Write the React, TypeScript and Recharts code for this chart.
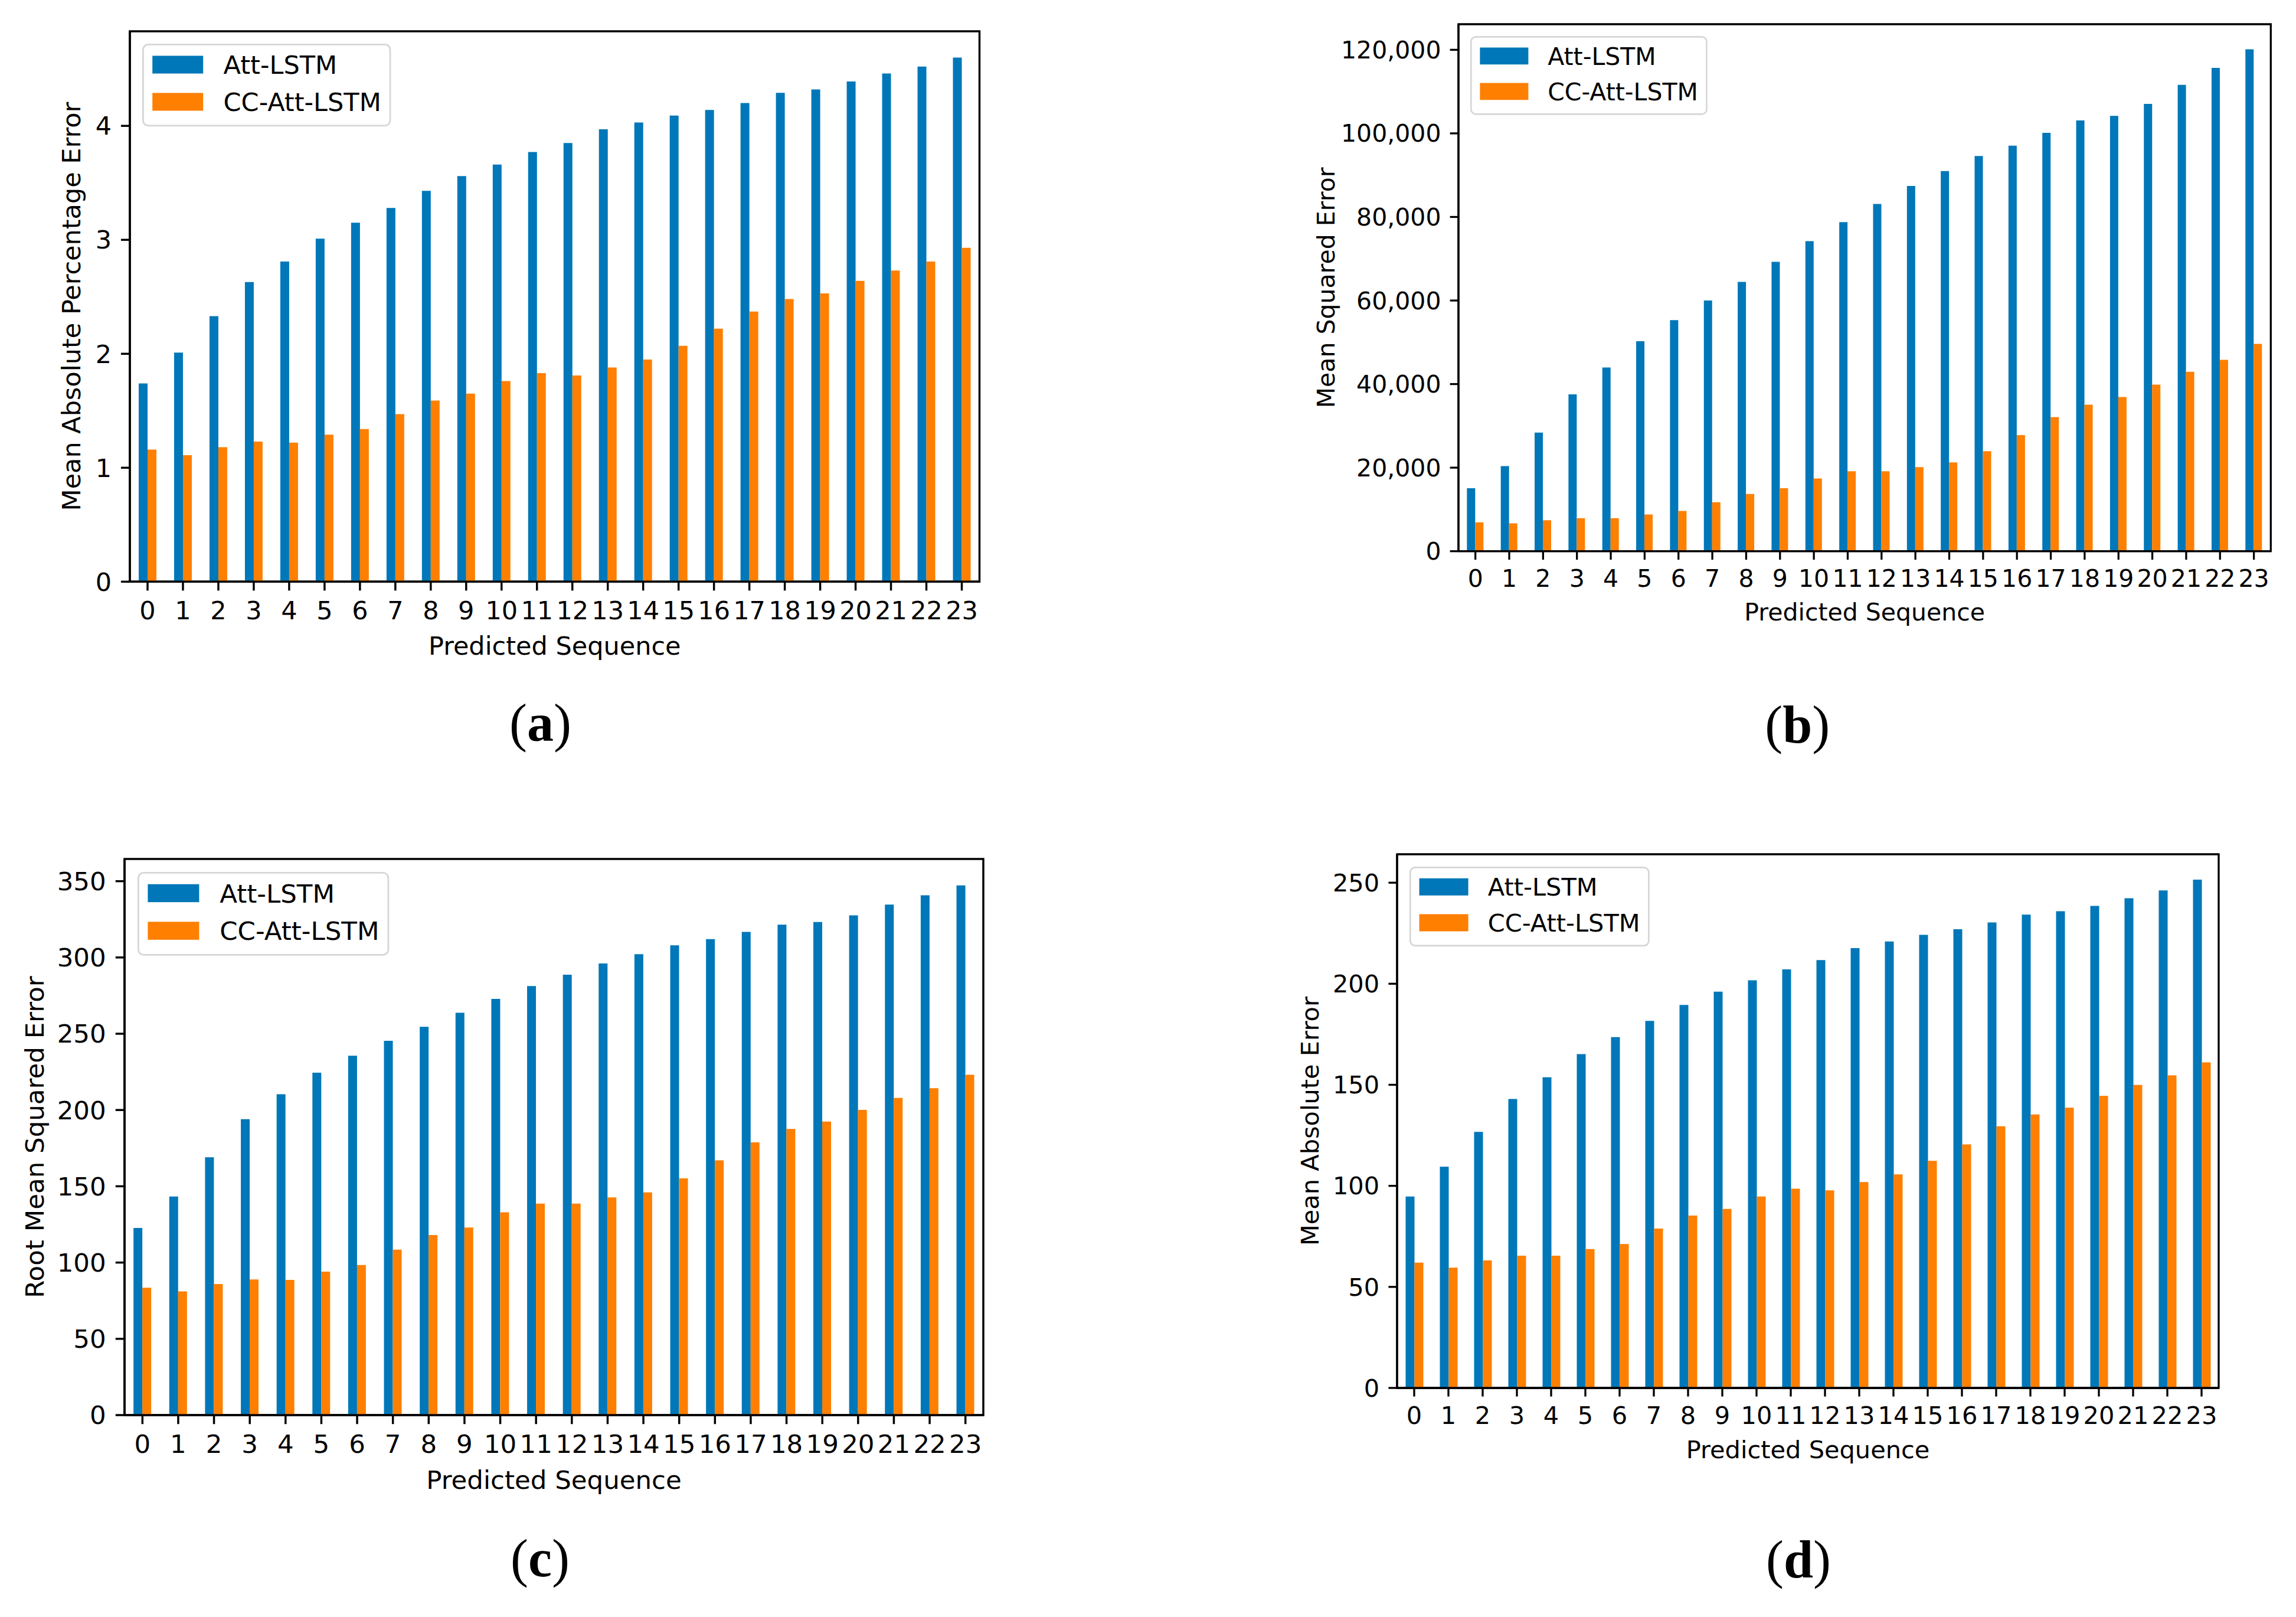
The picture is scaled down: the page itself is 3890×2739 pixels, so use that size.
import React from 'react';
import { BarChart, Bar, XAxis, YAxis, Legend, ReferenceArea } from 'recharts';

// ---------- data ----------
const SEQUENCE = ['0', '1', '2', '3', '4', '5', '6', '7', '8', '9', '10', '11', '12', '13', '14', '15', '16', '17', '18', '19', '20', '21', '22', '23'];

const mapeAtt = [1.74, 2.01, 2.33, 2.63, 2.81, 3.01, 3.15, 3.28, 3.43, 3.56, 3.66, 3.77, 3.85, 3.97, 4.03, 4.09, 4.14, 4.2, 4.29, 4.32, 4.39, 4.46, 4.52, 4.6];
const mapeCc = [1.16, 1.11, 1.18, 1.23, 1.22, 1.29, 1.34, 1.47, 1.59, 1.65, 1.76, 1.83, 1.81, 1.88, 1.95, 2.07, 2.22, 2.37, 2.48, 2.53, 2.64, 2.73, 2.81, 2.93];
const mapeTicks = [0, 1, 2, 3, 4];

const mseAtt = [15060, 20370, 28400, 37530, 43950, 50250, 55310, 60000, 64440, 69260, 74200, 78770, 83090, 87410, 90990, 94570, 97040, 100120, 103090, 104200, 107040, 111600, 115680, 120120];
const mseCc = [6910, 6670, 7410, 7900, 7900, 8770, 9630, 11730, 13700, 15060, 17410, 19140, 19140, 20120, 21240, 23950, 27780, 32100, 35060, 36910, 39880, 42960, 45800, 49630];
const mseTicks = [0, 20000, 40000, 60000, 80000, 100000, 120000];

const rmseAtt = [122.7, 143.3, 169.0, 194.0, 210.3, 224.5, 235.6, 245.4, 254.6, 263.7, 272.8, 281.3, 288.7, 296.1, 302.2, 308.0, 312.0, 316.8, 321.5, 323.2, 327.6, 334.7, 340.8, 347.2];
const rmseCc = [83.5, 81.1, 85.9, 88.9, 88.6, 94.0, 98.4, 108.5, 118.0, 123.0, 132.9, 138.6, 138.6, 142.7, 146.0, 155.2, 167.0, 178.8, 187.6, 192.4, 200.1, 207.9, 214.3, 223.1];
const rmseTicks = [0, 50, 100, 150, 200, 250, 300, 350];

const maeAtt = [94.7, 109.5, 126.7, 143.0, 153.7, 165.2, 173.6, 181.6, 189.5, 196.1, 201.7, 207.1, 211.7, 217.6, 220.9, 224.2, 227.0, 230.3, 234.2, 235.9, 238.5, 242.3, 246.2, 251.5];
const maeCc = [62.0, 59.5, 63.1, 65.4, 65.4, 68.7, 71.2, 78.9, 85.3, 88.6, 94.7, 98.6, 97.8, 101.9, 105.7, 112.4, 120.5, 129.5, 135.3, 138.7, 144.5, 149.9, 154.7, 161.1];
const maeTicks = [0, 50, 100, 150, 200, 250];

const SERIES_NAMES = ['Att-LSTM', 'CC-Att-LSTM'];
const X_LABEL = 'Predicted Sequence';

// ---------- styling / layout ----------
const BLUE = '#0077b8';
const ORANGE = '#ff7f00';
const SANS = "'DejaVu Sans', 'Noto Sans', sans-serif";
const SERIF = "'Liberation Serif', 'DejaVu Serif', serif";

const plainFmt = (v: number) => String(v);
const commaFmt = (v: number) => v.toLocaleString('en-US');

const PANELS = [
  { id: 'a', att: mapeAtt, cc: mapeCc, ticks: mapeTicks, yLabel: 'Mean Absolute Percentage Error', fmt: plainFmt,
    F: 43, plotL: 219.5, plotR: 1659, plotT: 52.7, plotB: 985, yLabelX: 120, capX: 915, capY: 1255 },
  { id: 'b', att: mseAtt, cc: mseCc, ticks: mseTicks, yLabel: 'Mean Squared Error', fmt: commaFmt,
    F: 41, plotL: 2470.7, plotR: 3847, plotT: 40.8, plotB: 933.5, yLabelX: 2246, capX: 3045, capY: 1258 },
  { id: 'c', att: rmseAtt, cc: rmseCc, ticks: rmseTicks, yLabel: 'Root Mean Squared Error', fmt: plainFmt,
    F: 43.5, plotL: 211, plotR: 1666, plotT: 1455, plotB: 2397, yLabelX: 58, capX: 915, capY: 2670 },
  { id: 'd', att: maeAtt, cc: maeCc, ticks: maeTicks, yLabel: 'Mean Absolute Error', fmt: plainFmt,
    F: 41.5, plotL: 2367, plotR: 3759, plotT: 1447, plotB: 2351, yLabelX: 2219, capX: 3047, capY: 2672 },
];

function makeLegend(F: number) {
  const w = 9.8 * F;
  const h = 3.26 * F;
  const lw = 0.065 * F;
  const rows = [0.826 * F, 2.29 * F];
  return (props: any) => {
    const payload = props.payload || [];
    return (
      <svg width={w} height={h} style={{ display: 'block', overflow: 'visible' }}>
        <rect x={lw / 2} y={lw / 2} width={w - lw} height={h - lw} rx={0.2 * F} ry={0.2 * F}
          fill="rgba(255,255,255,0.8)" stroke="#d6d6d6" strokeWidth={lw} />
        {payload.map((entry: any, i: number) => {
          const cy = rows[i] ?? rows[0] + i * 1.465 * F;
          return (
            <g key={String(entry.value)}>
              <rect x={0.4 * F} y={cy - 0.35 * F} width={2 * F} height={0.7 * F} fill={entry.color} />
              <text x={3.2 * F} y={cy + 0.36 * F} fontSize={F} fill="#000" fontFamily={SANS}>{entry.value}</text>
            </g>
          );
        })}
      </svg>
    );
  };
}

function Panel({ p }: { p: typeof PANELS[number] }) {
  const Ya = 260;
  const mt = 30;
  const mr = 30;
  const Xh = 360;
  const F = p.F;
  const plotW = p.plotR - p.plotL;
  const plotH = p.plotB - p.plotT;
  const width = Ya + plotW + mr;
  const height = mt + plotH + Xh;
  const left = p.plotL - Ya;
  const top = p.plotT - mt;
  const data = SEQUENCE.map((s, i) => ({ seq: s, att: p.att[i], cc: p.cc[i] }));
  const yMax = Math.max(...p.att) * 1.05;
  const lw = 0.08 * F;
  const axisStyle = { stroke: '#000', strokeWidth: lw };

  const xLabel = () => (
    <g>
      <text x={Ya + plotW / 2} y={mt + plotH + 2.87 * F} textAnchor="middle" fontSize={F} fill="#000" fontFamily={SANS}>
        {X_LABEL}
      </text>
      <text x={p.capX - left} y={p.capY - top} textAnchor="middle" fontSize={90} fill="#000" fontFamily={SERIF}>
        (<tspan fontWeight="bold">{p.id}</tspan>)
      </text>
    </g>
  );

  const yLabel = () => {
    const cx = p.yLabelX - left;
    const cy = mt + plotH / 2;
    return (
      <text x={cx} y={cy} dy={0.36 * F} transform={`rotate(-90 ${cx} ${cy})`} textAnchor="middle" fontSize={F} fill="#000" fontFamily={SANS}>
        {p.yLabel}
      </text>
    );
  };

  return (
    <div style={{ position: 'absolute', left, top, width, height, fontFamily: SANS }}>
      <BarChart width={width} height={height} data={data} margin={{ top: mt, right: mr, bottom: 0, left: 0 }}
        barCategoryGap="25%" barGap={0}>
        <XAxis dataKey="seq" interval={0} height={Xh} tickSize={0.35 * F} tickMargin={0.41 * F}
          tick={{ fontSize: F, fill: '#000', fontFamily: SANS }} axisLine={axisStyle} tickLine={axisStyle}
          label={{ content: xLabel }} />
        <YAxis type="number" domain={[0, yMax]} ticks={p.ticks} width={Ya} allowDataOverflow
          tickSize={0.35 * F} tickMargin={0.37 * F} tickFormatter={p.fmt}
          tick={{ fontSize: F, fill: '#000', fontFamily: SANS }} axisLine={axisStyle} tickLine={axisStyle}
          label={{ content: yLabel }} />
        <Legend verticalAlign="middle" align="center" layout="horizontal"
          wrapperStyle={{ left: Ya + 0.5 * F, top: mt + 0.5 * F, width: 9.8 * F, height: 3.26 * F }}
          content={makeLegend(F)} />
        <Bar dataKey="att" name={SERIES_NAMES[0]} fill={BLUE} isAnimationActive={false} />
        <Bar dataKey="cc" name={SERIES_NAMES[1]} fill={ORANGE} isAnimationActive={false} />
        <ReferenceArea y1={0} y2={yMax} ifOverflow="visible" fill="none" fillOpacity={0}
          stroke="#000" strokeWidth={lw} />
      </BarChart>
    </div>
  );
}

export default function App() {
  return (
    <div style={{ position: 'absolute', left: 0, top: 0, width: 3890, height: 2739, background: '#fff', overflow: 'hidden' }}>
      {PANELS.map((p) => (
        <Panel key={p.id} p={p} />
      ))}
    </div>
  );
}
